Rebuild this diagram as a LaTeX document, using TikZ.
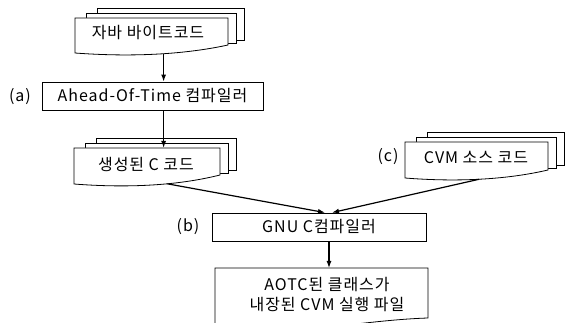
\documentclass[tikz,border=0pt]{standalone}
\usepackage{fontspec}
\setmainfont{Noto Sans CJK KR}[LetterSpace=6]
\usetikzlibrary{arrows.meta}

\tikzset{
  page/.style={draw, fill=white, line width=0.8pt},
  procbox/.style={draw, line width=0.8pt, inner sep=0pt},
  flow/.style={line width=1.2pt, -{Latex[length=7pt,width=5pt]}},
  tag/.style={inner sep=0pt},
}

% #1 name, #2 left, #3 top, #4 right, #5 bottom left, #6 bottom right, #7 pos of out
\newcommand{\docstack}[7]{%
  \draw[page] (#2+22,#3-10) rectangle (#4+16,#6-5);
  \draw[page] (#2+11,#3-5) rectangle (#4+8,#6-2);
  \draw[page] (#2,#3) -- coordinate (#1-top) (#4,#3) -- (#4,#6)
    .. controls ({#4-0.3*(#4-#2)},#5+2) and ({#2+0.35*(#4-#2)},#5+4) .. (#2,#5)
    coordinate[pos=#7] (#1-out) -- cycle;
}

\begin{document}
\begin{tikzpicture}[x=1pt, y=-1pt, font=\fontsize{16}{20}\selectfont]
\useasboundingbox (0,0) rectangle (568,323);
% inputs
\docstack{bytecode}{75}{18}{228}{53}{45}{0.44}
\node (bytecode) at (148,33) {자바 바이트코드};
\node[procbox, minimum width=221pt, minimum height=28pt] (aot) at (152.5,96) {Ahead-Of-Time 컴파일러};
\node[tag] (lbla) at (20,97) {(a)};
\docstack{gensrc}{74}{148}{220}{184}{175}{0.38}
\node (gensrc) at (146,164) {생성된 C 코드};
\docstack{cvmsrc}{405}{142}{548}{178}{170}{0.5}
\node (cvmsrc) at (476,157) {CVM 소스 코드};
\node[tag] (lblc) at (388,157) {(c)};
% gcc and output
\node[procbox, minimum width=214pt, minimum height=28pt] (gcc) at (319,227) {GNU C컴파일러};
\node[tag] (lblb) at (188,227) {(b)};
\draw[page] (215,268) -- coordinate (exe-top) (428,268) -- (428,318)
  .. controls (364,320) and (290,336) .. (215,333) -- cycle;
\node[align=center] (exe) at (327,295) {AOTC된 클래스가\\내장된 CVM 실행 파일};
% connectors
\draw[flow] (bytecode-out) -- (bytecode-out |- aot.north);
\draw[flow] (aot.south -| bytecode-out) -- (bytecode-out |- gensrc-top);
\draw[flow] (gensrc-out) -- ([xshift=6pt]gcc.north);
\draw[flow] (cvmsrc-out) -- ([xshift=13pt]gcc.north);
\draw[flow] ([xshift=10pt]gcc.south) -- ([xshift=10pt]gcc.south |- exe-top);
\end{tikzpicture}
\end{document}
